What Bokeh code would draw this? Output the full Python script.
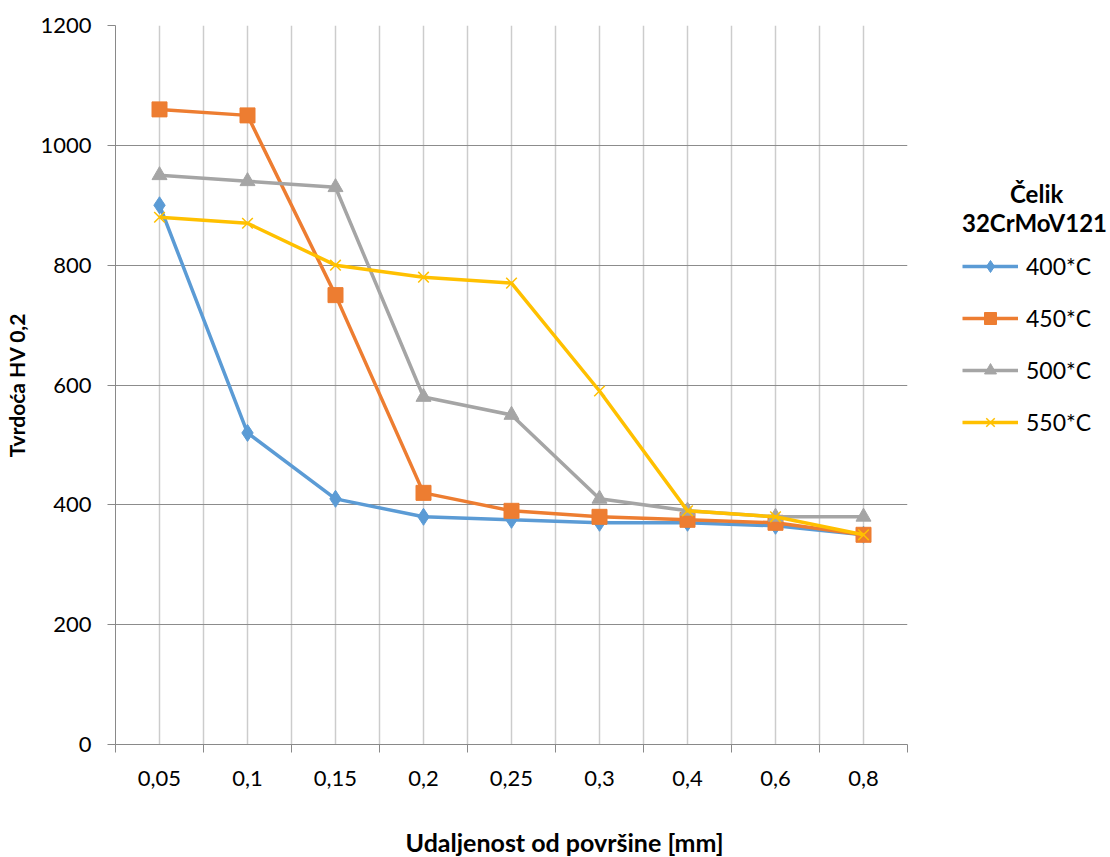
import numpy as np
from bokeh.plotting import figure
from bokeh.models import FixedTicker, Legend, LegendItem, Range1d, Title
from bokeh.embed import file_html
from bokeh.resources import INLINE

categories = ["0,05", "0,1", "0,15", "0,2", "0,25", "0,3", "0,4", "0,6", "0,8"]
s400 = [900, 520, 410, 380, 375, 370, 370, 365, 350]
s450 = [1060, 1050, 750, 420, 390, 380, 375, 370, 350]
s500 = [950, 940, 930, 580, 550, 410, 390, 380, 380]
s550 = [880, 870, 800, 780, 770, 590, 390, 380, 350]
series_names = ["400*C", "450*C", "500*C", "550*C"]
y_ticks = [0, 200, 400, 600, 800, 1000, 1200]

FONT = "Lato"
n = len(categories)
xs = np.arange(n) + 0.5

p = figure(width=1110, height=856, output_backend="svg", toolbar_location=None,
           x_range=Range1d(0, n), y_range=Range1d(0, 1200),
           frame_width=792, frame_height=719)
p.min_border_left = 115
p.min_border_top = 25
p.min_border_right = 203
p.min_border_bottom = 112
p.outline_line_color = None
p.background_fill_color = "white"
p.border_fill_color = "white"

# x axis
p.xaxis.ticker = FixedTicker(ticks=list(xs), minor_ticks=list(np.arange(n + 1)))
p.xaxis.major_label_overrides = {float(x): c for x, c in zip(xs, categories)}
p.xaxis.major_tick_out = 0
p.xaxis.major_tick_in = 0
p.xaxis.minor_tick_out = 8
p.xaxis.minor_tick_in = 0
p.xaxis.minor_tick_line_color = "#898989"
p.xaxis.axis_line_color = "#898989"
p.xaxis.major_label_text_font = FONT
p.xaxis.major_label_text_font_size = "22px"
p.xaxis.major_label_text_color = "#000000"
p.xaxis.major_label_standoff = 18

xtitle = Title(text="Udaljenost od površine [mm]", align="left", offset=290,
               text_font=FONT, text_font_style="bold", text_font_size="25px",
               text_color="#000000", standoff=72)
p.add_layout(xtitle, "below")

# y axis
p.yaxis.ticker = FixedTicker(ticks=y_ticks, minor_ticks=[])
p.yaxis.major_tick_out = 8
p.yaxis.major_tick_in = 0
p.yaxis.major_tick_line_color = "#898989"
p.yaxis.axis_line_color = "#898989"
p.yaxis.major_label_text_font = FONT
p.yaxis.major_label_text_font_size = "22px"
p.yaxis.major_label_text_color = "#000000"
p.yaxis.major_label_standoff = 16
p.yaxis.axis_label = "Tvrdoća HV 0,2"
p.yaxis.axis_label_text_font = FONT
p.yaxis.axis_label_text_font_style = "bold"
p.yaxis.axis_label_text_font_size = "21px"
p.yaxis.axis_label_text_color = "#000000"
p.yaxis.axis_label_standoff = 8

# grids
p.ygrid.grid_line_color = "#8c8c8c"
p.ygrid.grid_line_width = 1
p.xgrid.grid_line_color = "#cccccc"
p.xgrid.grid_line_width = 1.5
p.xgrid.minor_grid_line_color = "#cccccc"
p.xgrid.minor_grid_line_width = 1.5

colors = ["#5B9BD5", "#ED7D31", "#A5A5A5", "#FFC000"]
markers = ["diamond", "square", "triangle", "x"]
sizes = [17, 15, 15, 15]
data = [s400, s450, s500, s550]

items = []
for name, col, mk, sz, ys in zip(series_names, colors, markers, sizes, data):
    r1 = p.line(xs, ys, line_color=col, line_width=3.5)
    if mk == "x":
        r2 = p.scatter(xs, ys, marker=mk, size=sz, line_color=col, line_width=1.5)
    else:
        r2 = p.scatter(xs, ys, marker=mk, size=sz, fill_color=col, line_color=col)
    items.append(LegendItem(label=name, renderers=[r1, r2]))

legend = Legend(items=items, location=(55, 307))
legend.title = "\u2003\u2003\u2002Čelik\n32CrMoV121"
legend.title_text_font = FONT
legend.title_text_font_style = "bold"
legend.title_text_font_size = "24px"
legend.title_text_color = "#000000"
legend.title_text_line_height = 1.4
legend.title_standoff = 14
legend.label_text_font = FONT
legend.label_text_font_size = "23px"
legend.label_text_color = "#000000"
legend.glyph_width = 56
legend.glyph_height = 30
legend.label_height = 30
legend.label_standoff = 8
legend.spacing = 22
legend.padding = 0
legend.margin = 0
legend.border_line_color = None
legend.background_fill_alpha = 0
p.add_layout(legend, "right")

open("out.html", "w").write(file_html(p, INLINE))
